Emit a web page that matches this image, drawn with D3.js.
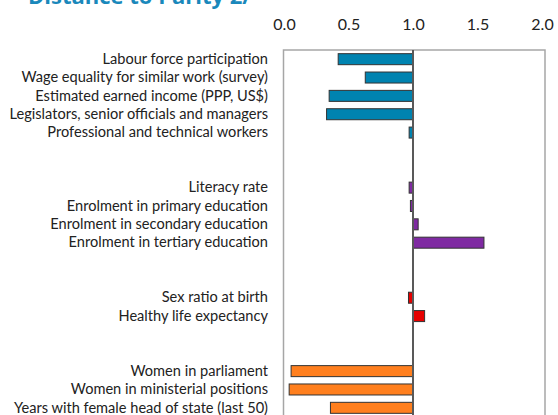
<!DOCTYPE html>
<html>
<head>
<meta charset="utf-8">
<script src="https://cdn.jsdelivr.net/npm/d3@7"></script>
<style>
  body { margin: 0; background: #fff; }
  svg { display: block; font-family: Lato, "Open Sans", sans-serif; }
</style>
</head>
<body>
<div id="chart"></div>
<script>
// rows in drawing order; "" marks the blank spacer rows between groups
const categories = [
    "Labour force participation",
    "Wage equality for similar work (survey)",
    "Estimated earned income (PPP, US$)",
    "Legislators, senior officials and managers",
    "Professional and technical workers",
    "", "",
    "Literacy rate",
    "Enrolment in primary education",
    "Enrolment in secondary education",
    "Enrolment in tertiary education",
    "", "",
    "Sex ratio at birth",
    "Healthy life expectancy",
    "", "",
    "Women in parliament",
    "Women in ministerial positions",
    "Years with female head of state (last 50)"
];
const values = [0.42, 0.63, 0.35, 0.33, 0.97, null, null, 0.97, 0.98, 1.04, 1.55, null, null, 0.965, 1.09, null, null, 0.055, 0.04, 0.36];
const groups = ["econ", "econ", "econ", "econ", "econ", null, null, "edu", "edu", "edu", "edu", null, null, "health", "health", null, null, "pol", "pol", "pol"];
const groupColors = { econ: "#0083b0", edu: "#7f2aa2", health: "#e60000", pol: "#ff7f1e" };
const ticks = [0, 0.5, 1.0, 1.5, 2.0];
const title = "Distance to Parity 2/";

const width = 558, height = 415;
const svg = d3.select("#chart").append("svg")
    .attr("width", width).attr("height", height);

const x = d3.scaleLinear().domain([0, 2]).range([284, 542]);
const y = d3.scaleBand().domain(d3.range(categories.length))
    .range([50, 50 + 18.35 * categories.length]).paddingInner(0.4).paddingOuter(0.2);

// title is cropped at the top edge, as in the source image
svg.append("text")
    .attr("x", 28).attr("y", 4)
    .attr("fill", "#1a88bb")
    .style("font-size", "22px").style("font-weight", "bold")
    .style("font-family", "'Open Sans', sans-serif")
    .text(title);

// frame
svg.append("rect")
    .attr("x", 283.5).attr("y", 50)
    .attr("width", 545 - 283.5).attr("height", 400)
    .attr("fill", "none").attr("stroke", "#a6a6a6").attr("stroke-width", 1.5);

// top axis labels
const xAxis = d3.axisTop(x).tickValues(ticks).tickFormat(d3.format(".1f")).tickSize(0).tickPadding(0);
svg.append("g")
    .attr("transform", "translate(0,30)")
    .call(xAxis)
    .call(g => g.select(".domain").remove())
    .call(g => g.selectAll("text").attr("fill", "#222").style("font-size", "16px")
        .style("font-family", "Lato, sans-serif").attr("dy", 0));

// category labels
const yAxis = d3.axisLeft(y).tickFormat(i => categories[i]).tickSize(0).tickPadding(0);
svg.append("g")
    .attr("transform", "translate(268,0)")
    .call(yAxis)
    .call(g => g.select(".domain").remove())
    .call(g => g.selectAll("text").attr("fill", "#222").style("font-size", "14.6px")
        .style("font-family", "Lato, sans-serif"));

const rows = d3.range(categories.length).filter(i => values[i] != null);
svg.append("g")
    .selectAll("rect")
    .data(rows)
    .join("rect")
    .attr("x", i => x(Math.min(values[i], 1)))
    .attr("y", i => y(i))
    .attr("width", i => Math.abs(x(values[i]) - x(1)))
    .attr("height", y.bandwidth())
    .attr("fill", i => groupColors[groups[i]])
    .attr("stroke", "#333")
    .attr("stroke-width", 1);

// parity line
svg.append("line")
    .attr("x1", x(1)).attr("x2", x(1))
    .attr("y1", 50).attr("y2", height)
    .attr("stroke", "#595959").attr("stroke-width", 2);
</script>
</body>
</html>
